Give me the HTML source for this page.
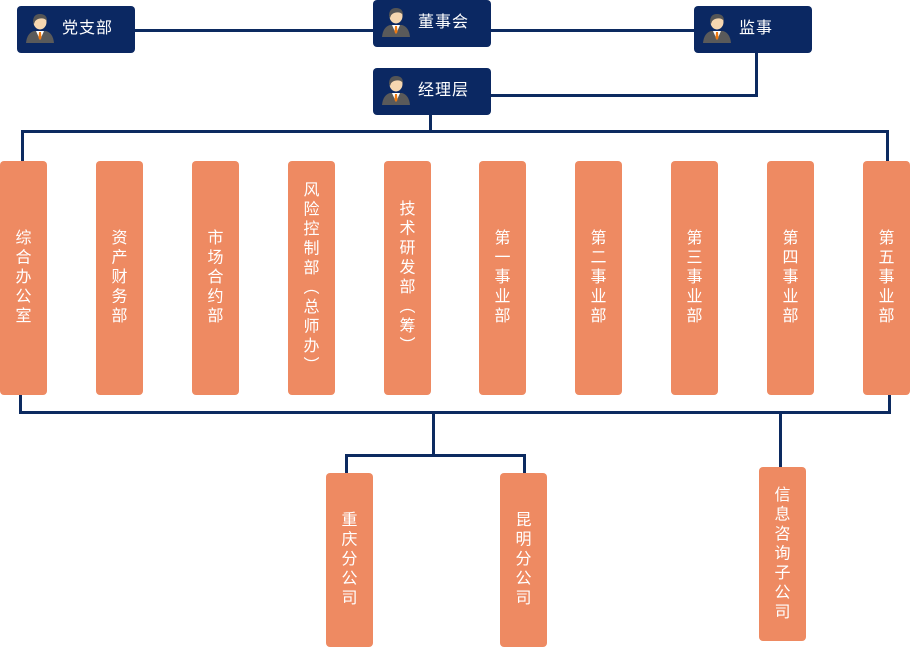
<!DOCTYPE html>
<html><head><meta charset="utf-8"><style>
body{margin:0;width:910px;height:648px;background:#fff;position:relative;overflow:hidden;font-family:"Liberation Sans","Noto Sans CJK SC",sans-serif}
.h{position:absolute;width:118px;height:47px;background:#0b2862;border-radius:4px;color:#fff;font-size:16px;letter-spacing:1px}
.h svg{position:absolute;left:9px;top:7px}
.h span{position:absolute;left:45px;top:13px;line-height:20px}
.c{position:absolute;width:47px;background:#ee8a62;border-radius:4px;color:#fff;font-size:16px;display:flex;align-items:center;justify-content:center}
.c div{writing-mode:vertical-rl;text-orientation:upright;letter-spacing:3.5px;line-height:18px;font-family:"Noto Sans CJK SC",sans-serif}
.l{position:absolute;background:#0c2a60}
</style></head><body>
<svg width="0" height="0" style="position:absolute"><defs><g id="p">
<path d="M0 30 Q1 20 8 18 L20 18 Q27 20 28 30 Z" fill="#5a5a5a"/>
<path d="M10 18 L14 27 L18 18 Z" fill="#fff"/>
<path d="M13 19 L15 19 L15.5 25 L14 27 L12.5 25 Z" fill="#f07a10"/>
<ellipse cx="14" cy="9" rx="6.5" ry="7.5" fill="#f6d7b0"/>
<path d="M7 9 Q7 1 14 1 Q21 1 21 8 Q18 4 12 6 Q9 7 8 11 Z" fill="#555"/>
</g></defs></svg>
<div class="l" style="left:135px;top:29px;width:238px;height:3px"></div>
<div class="l" style="left:491px;top:29px;width:203px;height:3px"></div>
<div class="l" style="left:755px;top:53px;width:3px;height:44px"></div>
<div class="l" style="left:491px;top:94px;width:267px;height:3px"></div>
<div class="l" style="left:429px;top:115px;width:3px;height:17px"></div>
<div class="l" style="left:21px;top:130px;width:868px;height:3px"></div>
<div class="l" style="left:21px;top:130px;width:3px;height:32px"></div>
<div class="l" style="left:886px;top:130px;width:3px;height:32px"></div>
<div class="l" style="left:19px;top:394px;width:3px;height:20px"></div>
<div class="l" style="left:888px;top:394px;width:3px;height:20px"></div>
<div class="l" style="left:19px;top:411px;width:872px;height:3px"></div>
<div class="l" style="left:432px;top:411px;width:3px;height:46px"></div>
<div class="l" style="left:345px;top:454px;width:181px;height:3px"></div>
<div class="l" style="left:345px;top:454px;width:3px;height:20px"></div>
<div class="l" style="left:523px;top:454px;width:3px;height:20px"></div>
<div class="l" style="left:779px;top:411px;width:3px;height:57px"></div>

<div class="h" style="left:17px;top:6px"><svg width="28" height="31"><use href="#p"/></svg><span>党支部</span></div>
<div class="h" style="left:373px;top:0px"><svg width="28" height="31"><use href="#p"/></svg><span>董事会</span></div>
<div class="h" style="left:694px;top:6px"><svg width="28" height="31"><use href="#p"/></svg><span>监事</span></div>
<div class="h" style="left:373px;top:68px"><svg width="28" height="31"><use href="#p"/></svg><span>经理层</span></div>

<div class="c" style="left:0;top:161px;height:234px"><div>综合办公室</div></div>
<div class="c" style="left:96px;top:161px;height:234px"><div>资产财务部</div></div>
<div class="c" style="left:192px;top:161px;height:234px"><div>市场合约部</div></div>
<div class="c" style="left:288px;top:161px;height:234px"><div>风险控制部（总师办）</div></div>
<div class="c" style="left:384px;top:161px;height:234px"><div>技术研发部（筹）</div></div>
<div class="c" style="left:479px;top:161px;height:234px"><div>第一事业部</div></div>
<div class="c" style="left:575px;top:161px;height:234px"><div>第二事业部</div></div>
<div class="c" style="left:671px;top:161px;height:234px"><div>第三事业部</div></div>
<div class="c" style="left:767px;top:161px;height:234px"><div>第四事业部</div></div>
<div class="c" style="left:863px;top:161px;height:234px"><div>第五事业部</div></div>
<div class="c" style="left:326px;top:473px;height:174px"><div>重庆分公司</div></div>
<div class="c" style="left:500px;top:473px;height:174px"><div>昆明分公司</div></div>
<div class="c" style="left:759px;top:467px;height:174px"><div>信息咨询子公司</div></div>
</body></html>
